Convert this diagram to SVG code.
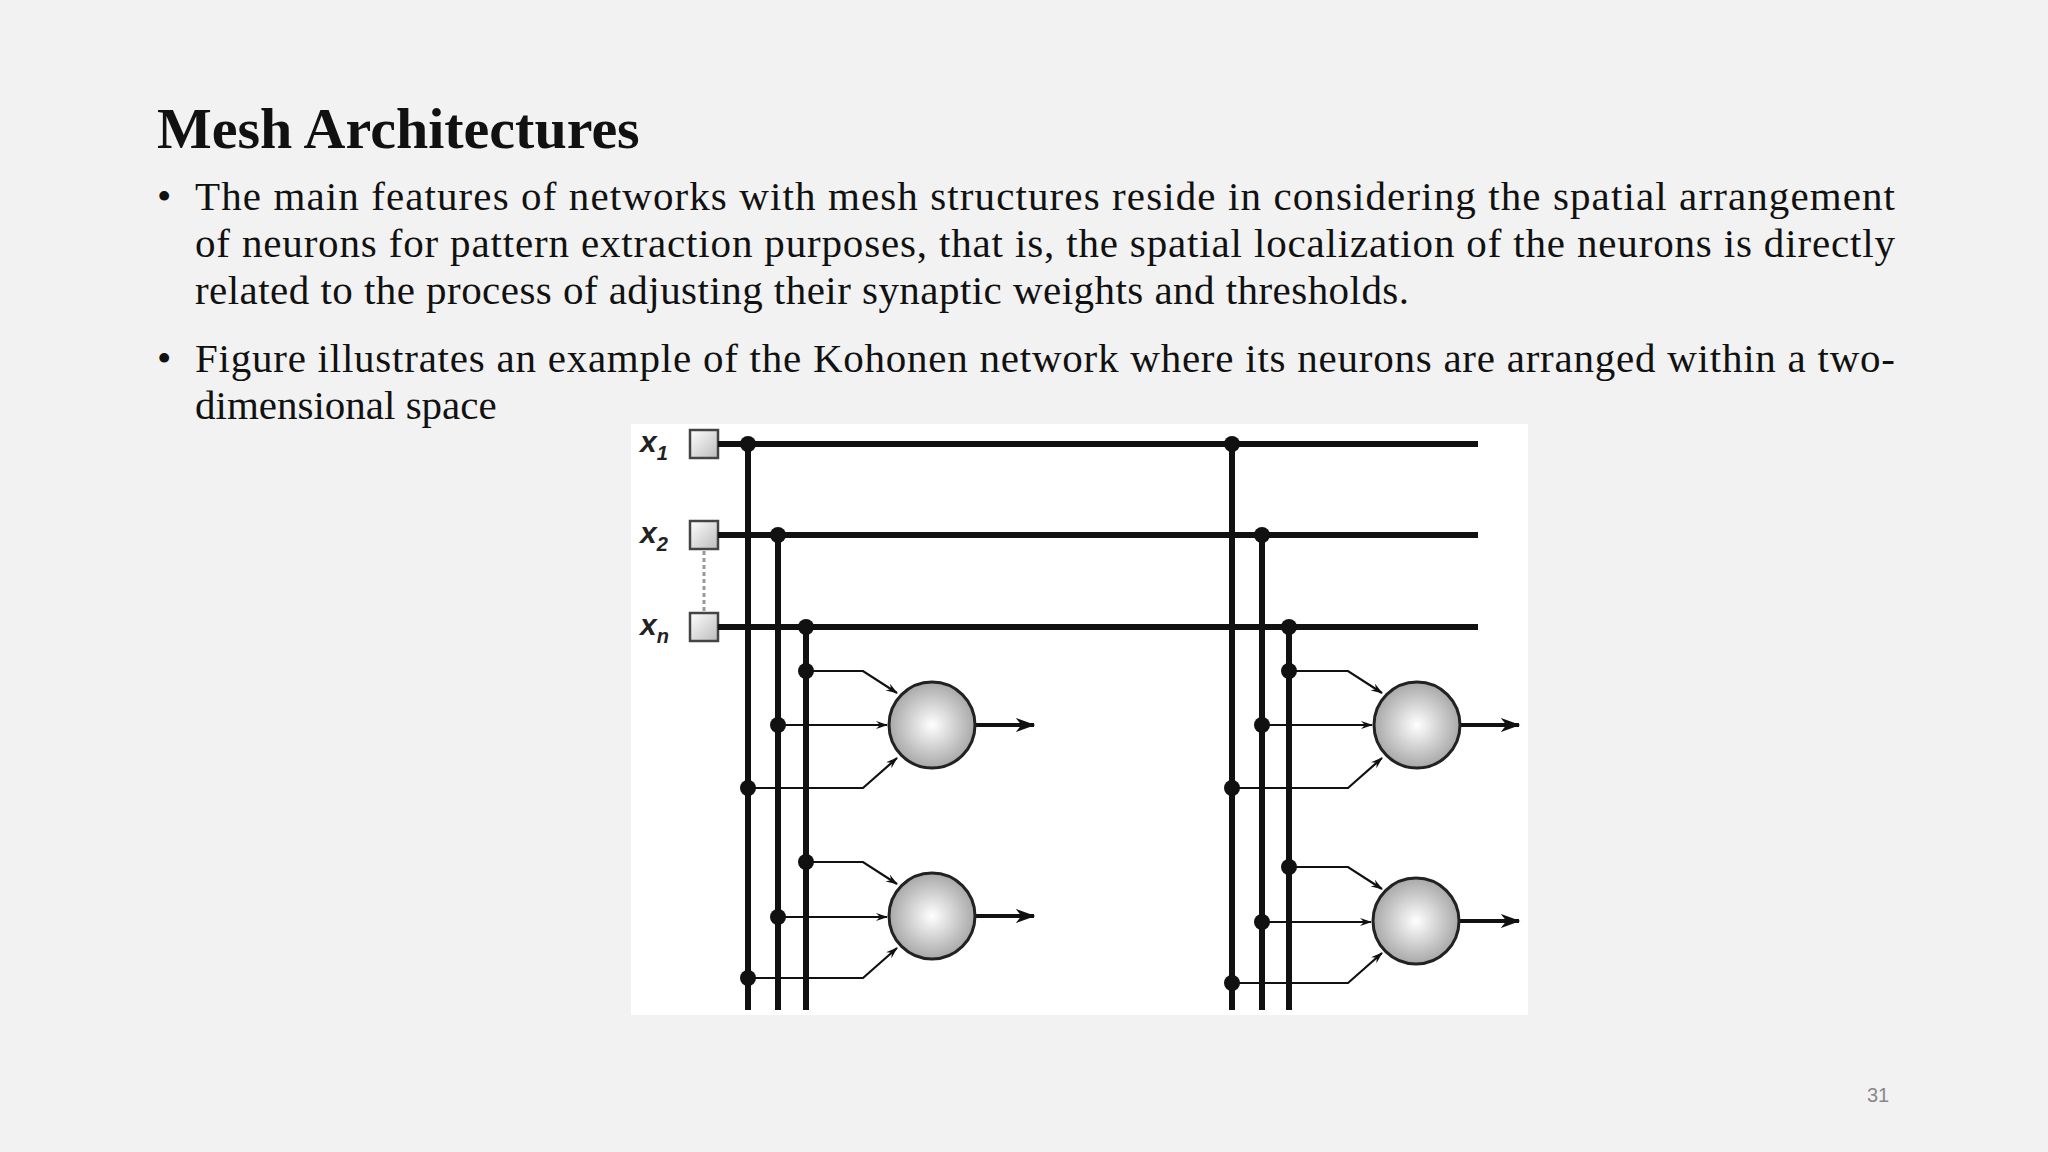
<svg xmlns="http://www.w3.org/2000/svg" width="2048" height="1152" viewBox="0 0 2048 1152">
<defs>
<radialGradient id="g" cx="0.5" cy="0.5" r="0.5"><stop offset="0" stop-color="#ffffff"/><stop offset="1" stop-color="#a8a8a8"/></radialGradient>
<linearGradient id="sq" x1="0" y1="0" x2="1" y2="1"><stop offset="0" stop-color="#fff"/><stop offset="1" stop-color="#bbb"/></linearGradient>
<marker id="a" viewBox="0 0 12 8" refX="11" refY="4" markerWidth="12" markerHeight="8" markerUnits="userSpaceOnUse" orient="auto"><path d="M0,0 L12,4 L0,8 L4,4 Z" fill="#111"/></marker>
<marker id="b" viewBox="0 0 14 10" refX="13" refY="5" markerWidth="20" markerHeight="14" markerUnits="userSpaceOnUse" orient="auto"><path d="M0,0 L14,5 L0,10 L4,5 Z" fill="#111"/></marker>
</defs>
<style>
.t{font-family:"Liberation Serif",serif;fill:#111}
.bus{stroke:#111;stroke-width:6;fill:none}
.in{stroke:#111;stroke-width:2.2;fill:none;marker-end:url(#a)}
.out{stroke:#111;stroke-width:4;fill:none;marker-end:url(#b)}
.n{fill:url(#g);stroke:#222;stroke-width:3}
.lab{font-family:"Liberation Sans",sans-serif;font-style:italic;font-weight:bold;font-size:30px;fill:#222}
.sub{font-size:20px}
</style>
<rect width="2048" height="1152" fill="#f2f2f2"/>
<text class="t" x="157" y="148" font-size="58" font-weight="bold">Mesh Architectures</text>
<g class="t" font-size="41">
<text x="157" y="210">•</text>
<text x="195" y="210" textLength="1700" lengthAdjust="spacing">The main features of networks with mesh structures reside in considering the spatial arrangement</text>
<text x="195" y="257" textLength="1700" lengthAdjust="spacing">of neurons for pattern extraction purposes, that is, the spatial localization of the neurons is directly</text>
<text x="195" y="304" textLength="1214" lengthAdjust="spacing">related to the process of adjusting their synaptic weights and thresholds.</text>
<text x="157" y="372">•</text>
<text x="195" y="372" textLength="1700" lengthAdjust="spacing">Figure illustrates an example of the Kohonen network where its neurons are arranged within a two-</text>
<text x="195" y="419">dimensional space</text>
</g>
<text x="1878" y="1102" font-family="Liberation Sans,sans-serif" font-size="20" fill="#888" text-anchor="middle">31</text>
<rect x="631" y="424" width="897" height="591" fill="#fff"/>
<g id="inputs">
<text class="lab" x="640" y="452">x<tspan class="sub" dy="8">1</tspan></text>
<text class="lab" x="640" y="543">x<tspan class="sub" dy="8">2</tspan></text>
<text class="lab" x="640" y="635">x<tspan class="sub" dy="8">n</tspan></text>
<rect x="690" y="430" width="28" height="28" fill="url(#sq)" stroke="#444" stroke-width="2.5"/>
<rect x="690" y="521" width="28" height="28" fill="url(#sq)" stroke="#444" stroke-width="2.5"/>
<rect x="690" y="613" width="28" height="28" fill="url(#sq)" stroke="#444" stroke-width="2.5"/>
<line x1="704" y1="551" x2="704" y2="611" stroke="#999" stroke-width="3" stroke-dasharray="4,3"/>
</g>
<g id="connectors">
<path class="bus" d="M718,444H1478M718,535H1478M718,627H1478"/>
<path class="bus" d="M748,444V1010M778,535V1010M806,627V1010M1232,444V1010M1262,535V1010M1289,627V1010"/>
<g fill="#111">
<circle cx="748" cy="444" r="8"/><circle cx="778" cy="535" r="8"/><circle cx="806" cy="627" r="8"/>
<circle cx="1232" cy="444" r="8"/><circle cx="1262" cy="535" r="8"/><circle cx="1289" cy="627" r="8"/>
<circle cx="806" cy="671" r="8"/><circle cx="778" cy="725" r="8"/><circle cx="748" cy="788" r="8"/>
<circle cx="806" cy="862" r="8"/><circle cx="778" cy="917" r="8"/><circle cx="748" cy="978" r="8"/>
<circle cx="1289" cy="671" r="8"/><circle cx="1262" cy="725" r="8"/><circle cx="1232" cy="788" r="8"/>
<circle cx="1289" cy="867" r="8"/><circle cx="1262" cy="922" r="8"/><circle cx="1232" cy="983" r="8"/>
</g>
<path class="in" d="M806,671H863L897,693"/>
<path class="in" d="M778,725H887"/>
<path class="in" d="M748,788H863L897,758"/>
<path class="in" d="M806,862H863L897,884"/>
<path class="in" d="M778,917H887"/>
<path class="in" d="M748,978H863L897,948"/>
<path class="in" d="M1289,671H1348L1382,693"/>
<path class="in" d="M1262,725H1372"/>
<path class="in" d="M1232,788H1348L1382,758"/>
<path class="in" d="M1289,867H1348L1382,889"/>
<path class="in" d="M1262,922H1371"/>
<path class="in" d="M1232,983H1348L1382,953"/>
<path class="out" d="M975,725H1034"/>
<path class="out" d="M975,916H1034"/>
<path class="out" d="M1460,725H1519"/>
<path class="out" d="M1459,921H1519"/>
</g>
<g id="n1"><circle class="n" cx="932" cy="725" r="43"/></g>
<g id="n2"><circle class="n" cx="932" cy="916" r="43"/></g>
<g id="n3"><circle class="n" cx="1417" cy="725" r="43"/></g>
<g id="n4"><circle class="n" cx="1416" cy="921" r="43"/></g>
</svg>
